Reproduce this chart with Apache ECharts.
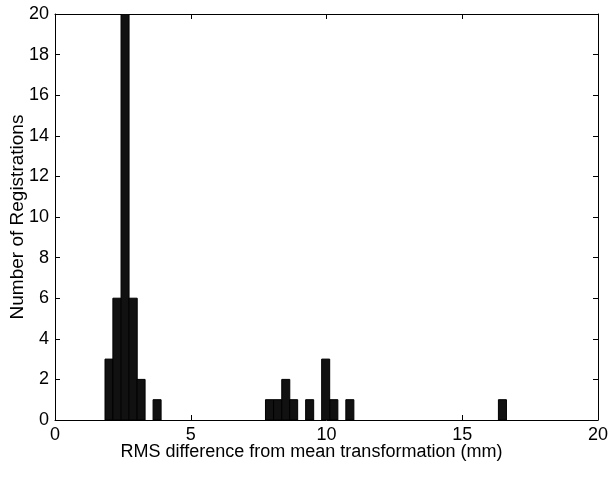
<!DOCTYPE html>
<html>
<head>
<meta charset="utf-8">
<script src="https://cdn.jsdelivr.net/npm/echarts@6/dist/echarts.min.js"></script>
<style>
  html, body { margin: 0; padding: 0; background: #fff; }
  #main { width: 610px; height: 489px; }
</style>
</head>
<body>
<div id="main"></div>
<script>
// histogram bins (50 bins, width ~0.296 mm)
var binWidth = 0.2958;
var binCenters = [
  1.99, 2.28, 2.58, 2.88, 3.17, 3.47, 3.76, 4.06, 4.35, 4.65,
  4.95, 5.24, 5.54, 5.83, 6.13, 6.42, 6.72, 7.02, 7.31, 7.61,
  7.90, 8.20, 8.50, 8.79, 9.09, 9.38, 9.68, 9.97, 10.27, 10.57,
  10.86, 11.16, 11.45, 11.75, 12.04, 12.34, 12.64, 12.93, 13.23, 13.52,
  13.82, 14.12, 14.41, 14.71, 15.00, 15.30, 15.60, 15.89, 16.19, 16.48
];
var counts = [
  3, 6, 20, 6, 2, 0, 1, 0, 0, 0,
  0, 0, 0, 0, 0, 0, 0, 0, 0, 0,
  1, 1, 2, 1, 0, 1, 0, 3, 1, 0,
  1, 0, 0, 0, 0, 0, 0, 0, 0, 0,
  0, 0, 0, 0, 0, 0, 0, 0, 0, 1
];
var xTicks = [0, 5, 10, 15, 20];
var yTicks = [0, 2, 4, 6, 8, 10, 12, 14, 16, 18, 20];

var font = '"Liberation Sans", Arial, Helvetica, sans-serif';
var myChart = echarts.init(document.getElementById('main'));

var data = binCenters.map(function (c, i) { return [c, counts[i]]; });

function boxAxis(extra) {
  return Object.assign({
    type: 'value',
    axisLine: { show: true, onZero: false, lineStyle: { color: '#000', width: 1 } },
    axisTick: { show: true, inside: true, length: 5, lineStyle: { color: '#000' } },
    splitLine: { show: false }
  }, extra);
}

myChart.setOption({
  animation: false,
  backgroundColor: '#fff',
  grid: { left: 55, right: 12, top: 14, bottom: 69, outerBoundsMode: 'none' },
  xAxis: [
    boxAxis({
      min: xTicks[0], max: xTicks[xTicks.length - 1], interval: 5,
      position: 'bottom',
      name: 'RMS difference from mean transformation (mm)',
      nameLocation: 'middle', nameGap: 23, nameMoveOverlap: false,
      nameTextStyle: { fontFamily: font, fontSize: 18, color: '#000', padding: [0, 30, 0, 0] },
      axisLabel: { fontFamily: font, fontSize: 18, color: '#000', margin: 6 }
    }),
    boxAxis({
      min: xTicks[0], max: xTicks[xTicks.length - 1], interval: 5,
      position: 'top', axisLabel: { show: false }
    })
  ],
  yAxis: [
    boxAxis({
      min: yTicks[0], max: yTicks[yTicks.length - 1], interval: 2,
      position: 'left',
      name: 'Number of Registrations',
      nameLocation: 'middle', nameGap: 28, nameMoveOverlap: false,
      nameTextStyle: { fontFamily: font, fontSize: 19, color: '#000' },
      axisLabel: { fontFamily: font, fontSize: 18, color: '#000', margin: 6 }
    }),
    boxAxis({
      min: yTicks[0], max: yTicks[yTicks.length - 1], interval: 2,
      position: 'right', axisLabel: { show: false }
    })
  ],
  series: [{
    type: 'custom',
    xAxisIndex: 0,
    yAxisIndex: 0,
    data: data,
    clip: true,
    renderItem: function (params, api) {
      var c = api.value(0), n = api.value(1);
      if (!n) return null;
      var p0 = api.coord([c - binWidth / 2, n]);
      var p1 = api.coord([c + binWidth / 2, 0]);
      return {
        type: 'rect',
        shape: { x: p0[0], y: p0[1], width: p1[0] - p0[0], height: p1[1] - p0[1] },
        style: { fill: '#111', stroke: '#000', lineWidth: 1 }
      };
    }
  }]
});
</script>
</body>
</html>
